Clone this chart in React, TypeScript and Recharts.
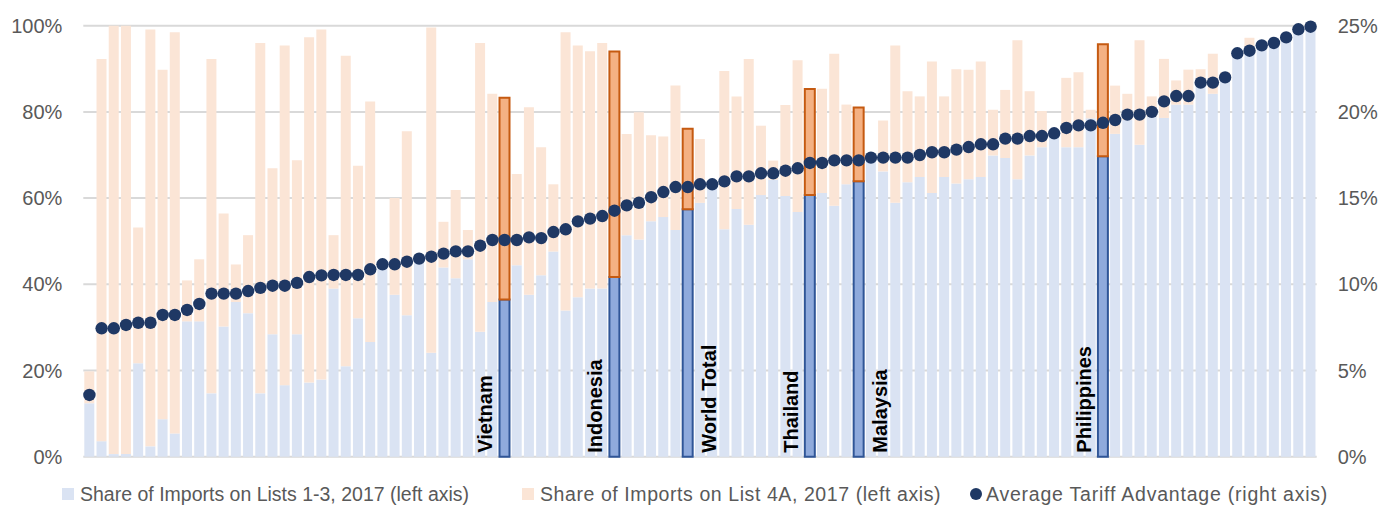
import React from 'react';
import { ComposedChart, Bar, Line, XAxis, YAxis, CartesianGrid, Cell, LabelList } from 'recharts';

// Share of imports on Lists 1-3, 2017 (%), left axis
const lists13 = [
  12.4, 3.6, 0.6, 0.6, 21.7, 2.4, 8.7, 5.4, 31.4, 31.4,
  14.7, 30.2, 35.9, 33.3, 14.7, 28.4, 16.6, 28.4, 17.2, 17.9,
  39.0, 21.0, 32.1, 26.6, 44.0, 37.6, 32.8, 45.0, 24.1, 43.9,
  41.4, 45.8, 29.0, 35.9, 36.5, 44.4, 37.6, 42.1, 47.6, 33.9,
  37.0, 39.0, 39.0, 41.7, 51.4, 50.4, 54.6, 55.6, 52.6, 57.4,
  58.9, 62.3, 52.8, 57.5, 53.8, 60.7, 64.3, 60.5, 56.8, 60.7,
  61.2, 58.2, 63.2, 63.9, 68.5, 66.2, 58.9, 63.7, 64.9, 61.2,
  64.9, 63.4, 64.4, 64.9, 69.9, 69.3, 64.4, 69.9, 71.8, 75.0,
  71.8, 71.8, 78.5, 69.7, 74.9, 78.1, 72.4, 78.9, 78.6, 81.7,
  81.7, 86.6, 84.2, 88.0, 94.0, 94.5, 95.1, 96.3, 97.4, 99.0,
  99.8,
];

// Share of imports on List 4A, 2017 (%), left axis (stacked on top)
const list4A = [
  7.4, 88.7, 99.4, 99.4, 31.5, 96.7, 81.1, 93.1, 9.5, 14.4,
  77.6, 26.2, 8.7, 18.1, 81.3, 38.5, 78.8, 40.4, 80.1, 81.2,
  12.4, 72.0, 35.4, 55.8, 0, 22.4, 42.7, 0, 75.5, 10.6,
  20.5, 6.8, 67.0, 48.3, 46.8, 21.2, 43.5, 29.7, 15.6, 64.6,
  58.4, 55.1, 57.0, 52.3, 23.5, 29.5, 20.0, 18.7, 33.5, 18.7,
  14.8, 0, 36.7, 26.1, 38.5, 16.1, 4.4, 21.1, 35.2, 24.6,
  24.2, 35.3, 18.5, 17.1, 0, 11.8, 36.5, 21.1, 18.7, 30.5,
  18.7, 26.5, 25.4, 26.8, 10.6, 15.8, 32.2, 14.9, 8.4, 0,
  16.1, 17.4, 2.0, 26.0, 11.2, 6.1, 24.2, 4.7, 13.7, 5.6,
  8.1, 3.3, 9.3, 1.2, 0, 2.7, 0, 0, 0, 0,
  0,
];

// Average tariff advantage (%), right axis
const tariffAdvantage = [
  3.58, 7.45, 7.45, 7.64, 7.77, 7.77, 8.22, 8.22, 8.51, 8.86,
  9.46, 9.46, 9.46, 9.61, 9.79, 9.92, 9.92, 10.08, 10.42, 10.52,
  10.54, 10.54, 10.54, 10.87, 11.16, 11.16, 11.31, 11.49, 11.6, 11.78,
  11.91, 11.91, 12.24, 12.57, 12.57, 12.57, 12.72, 12.68, 13.03, 13.19,
  13.65, 13.81, 13.96, 14.27, 14.58, 14.73, 15.05, 15.35, 15.64, 15.64,
  15.8, 15.8, 15.97, 16.26, 16.26, 16.44, 16.44, 16.59, 16.73, 17.04,
  17.04, 17.19, 17.19, 17.19, 17.35, 17.35, 17.35, 17.35, 17.5, 17.66,
  17.66, 17.81, 17.96, 18.12, 18.12, 18.45, 18.45, 18.6, 18.6, 18.76,
  19.07, 19.22, 19.22, 19.37, 19.53, 19.84, 19.84, 20.0, 20.61, 20.92,
  20.92, 21.7, 21.7, 22.0, 23.4, 23.55, 23.86, 24.0, 24.32, 24.79,
  24.94,
];

// Highlighted categories (index -> label)
const highlightIndex = [34, 43, 49, 59, 63, 83];
const highlightNames = ['Vietnam', 'Indonesia', 'World Total', 'Thailand', 'Malaysia', 'Philippines'];

const leftTicks = [0, 20, 40, 60, 80, 100];
const rightTicks = [0, 5, 10, 15, 20, 25];

const legendLabels = [
  'Share of Imports on Lists 1-3, 2017 (left axis)',
  'Share of Imports on List 4A, 2017 (left axis)',
  'Average Tariff Advantage (right axis)',
];

const labelOnRight: Record<string, boolean> = { 'World Total': true, Malaysia: true };

const data = lists13.map((v, i) => {
  const h = highlightIndex.indexOf(i);
  return {
    idx: i,
    lists13: v,
    list4A: list4A[i],
    tariff: tariffAdvantage[i],
    label: h >= 0 ? highlightNames[h] : '',
    hl: h >= 0,
  };
});

const FONT = '"Liberation Sans", Arial, sans-serif';
const TICK_STYLE = { fill: '#595959', fontSize: 20, fontFamily: FONT };

const renderCountryLabel = (props: any) => {
  const vb = props.viewBox || props;
  const x = props.x ?? vb.x;
  const y = props.y ?? vb.y;
  const width = props.width ?? vb.width;
  const height = props.height ?? vb.height;
  const value = props.value;
  if (!value) return null;
  const tx = labelOnRight[value] ? x + width + 23 : x - 7;
  const ty = y + height - 4;
  return (
    <text
      x={tx}
      y={ty}
      transform={`rotate(-90 ${tx} ${ty})`}
      fontSize={20}
      fontWeight="bold"
      fontFamily={FONT}
      fill="#000000"
      textAnchor="start"
    >
      {value}
    </text>
  );
};

export default function App() {
  return (
    <div style={{ position: 'relative', width: 1382, height: 506, background: '#fff' }}>
      <style>{`body{margin:0;}`}</style>
      <ComposedChart
        width={1382}
        height={506}
        data={data}
        margin={{ top: 25.7, right: 0, left: 0, bottom: 49.3 }}
        barCategoryGap={1}
      >
        <CartesianGrid
          yAxisId="left"
          vertical={false}
          stroke="#D9D9D9"
          strokeWidth={2}
        />
        <XAxis dataKey="idx" type="category" hide />
        <YAxis
          yAxisId="left"
          domain={[0, 100]}
          ticks={leftTicks}
          tickFormatter={(v: number) => `${v}%`}
          axisLine={false}
          tickLine={false}
          tickSize={0}
          tickMargin={21}
          width={83.3}
          tick={TICK_STYLE}
          interval={0}
        />
        <YAxis
          yAxisId="right"
          orientation="right"
          domain={[0, 25]}
          ticks={rightTicks}
          tickFormatter={(v: number) => `${v}%`}
          axisLine={false}
          tickLine={false}
          tickSize={0}
          tickMargin={21}
          width={65.3}
          tick={TICK_STYLE}
          interval={0}
        />
        <Bar dataKey="lists13" stackId="s" yAxisId="left" fill="#DAE3F3" isAnimationActive={false}>
          {data.map((d) => (
            <Cell
              key={`b${d.idx}`}
              fill={d.hl ? '#8FAADC' : '#DAE3F3'}
              stroke={d.hl ? '#2F5597' : 'none'}
              strokeWidth={d.hl ? 2 : 0}
            />
          ))}
          <LabelList dataKey="label" content={renderCountryLabel} />
        </Bar>
        <Bar dataKey="list4A" stackId="s" yAxisId="left" fill="#FBE5D6" isAnimationActive={false}>
          {data.map((d) => (
            <Cell
              key={`p${d.idx}`}
              fill={d.hl ? '#F4B183' : '#FBE5D6'}
              stroke={d.hl ? '#C55A11' : 'none'}
              strokeWidth={d.hl ? 2 : 0}
            />
          ))}
        </Bar>
        <Line
          dataKey="tariff"
          yAxisId="right"
          stroke="none"
          strokeWidth={0}
          dot={{ r: 6.2, fill: '#1F3864', stroke: '#1F3864', strokeWidth: 0 }}
          activeDot={false}
          isAnimationActive={false}
        />
      </ComposedChart>
      <div style={{ position: 'absolute', left: 0, top: 0, width: 1382, height: 506, pointerEvents: 'none', fontFamily: FONT, fontSize: 19.5, color: '#595959' }}>
        <div style={{ position: 'absolute', left: 62, top: 488, width: 12, height: 12, background: '#DAE3F3' }} />
        <div style={{ position: 'absolute', left: 80, top: 482, lineHeight: '24px', whiteSpace: 'nowrap' }}>{legendLabels[0]}</div>
        <div style={{ position: 'absolute', left: 522, top: 488, width: 12, height: 12, background: '#FBE5D6' }} />
        <div style={{ position: 'absolute', left: 540, top: 482, lineHeight: '24px', whiteSpace: 'nowrap', letterSpacing: 0.58 }}>{legendLabels[1]}</div>
        <div style={{ position: 'absolute', left: 970, top: 488, width: 12, height: 12, borderRadius: 6, background: '#1F3864' }} />
        <div style={{ position: 'absolute', left: 986, top: 482, lineHeight: '24px', whiteSpace: 'nowrap', letterSpacing: 0.78 }}>{legendLabels[2]}</div>
      </div>
    </div>
  );
}
